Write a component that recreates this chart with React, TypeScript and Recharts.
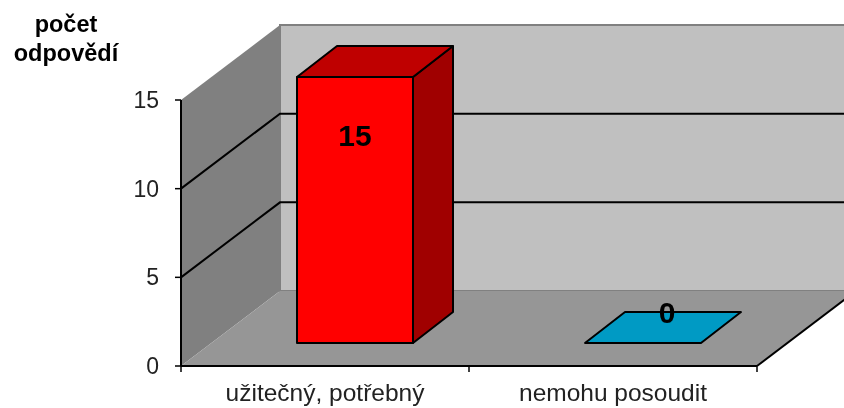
import { BarChart, Bar, XAxis, YAxis, ReferenceArea, LabelList } from "recharts";

const categories = ["užitečný, potřebný", "nemohu posoudit"];
const answers = [15, 0];
const yTicks = [0, 5, 10, 15];
const gridValues = [5, 10];
const titleLines = ["počet", "odpovědí"];

const frontFills = ["#ff0000", "#009ac4"];
const topFills = ["#bf0000", "#009ac4"];
const sideFills = ["#a00000", "#007a9c"];

const FONT = "'Liberation Sans', Arial, sans-serif";

// fake 3D: depth of the whole box and how far the bars sit in it
const DEPTH_X = 99;
const DEPTH_Y = 75;
const BAR_SHIFT_X = 30;
const BAR_SHIFT_Y = 23;
const BAR_DEPTH_X = 40;
const BAR_DEPTH_Y = 31;

const pts = (list: number[][]) => list.map((p) => p.join(",")).join(" ");

function Walls({ x, y, width, height }: any) {
  const r = x + width;
  const b = y + height;
  const bx = x + DEPTH_X;
  const ticks = categories.map((_, i) => x + (width * (i + 1)) / categories.length);
  return (
    <g>
      <polygon
        points={pts([[bx, y - DEPTH_Y], [r + DEPTH_X, y - DEPTH_Y], [r + DEPTH_X, b - DEPTH_Y], [bx, b - DEPTH_Y]])}
        fill="#c0c0c0"
        stroke="#808080"
        strokeWidth={2}
      />
      <polygon
        points={pts([[x, y], [bx, y - DEPTH_Y], [bx, b - DEPTH_Y], [x, b]])}
        fill="#808080"
      />
      <polygon
        points={pts([[x, b], [r, b], [r + DEPTH_X, b - DEPTH_Y], [bx, b - DEPTH_Y]])}
        fill="#969696"
      />
      <line x1={r} y1={b} x2={r + DEPTH_X} y2={b - DEPTH_Y} stroke="#000" strokeWidth={2} />
      {[x, ...ticks].map((t) => (
        <line key={t} x1={t} y1={b} x2={t} y2={b + 6} stroke="#000" strokeWidth={1.5} />
      ))}
    </g>
  );
}

// a zero height reference area, so the line stays behind the bars
function WallLine({ x, y, width }: any) {
  const d = `M${x},${y} L${x + DEPTH_X},${y - DEPTH_Y} L${x + width + DEPTH_X},${y - DEPTH_Y}`;
  return <path d={d} fill="none" stroke="#000" strokeWidth={2} />;
}

function Box3D({ x, y, width, height, index }: any) {
  const l = x + BAR_SHIFT_X;
  const r = l + width;
  const t = y - BAR_SHIFT_Y;
  const b = t + height;
  const dx = BAR_DEPTH_X;
  const dy = BAR_DEPTH_Y;
  return (
    <g stroke="#000" strokeWidth={2} strokeLinejoin="round">
      {height > 0 && <polygon points={pts([[r, t], [r + dx, t - dy], [r + dx, b - dy], [r, b]])} fill={sideFills[index]} />}
      <polygon points={pts([[l, t], [r, t], [r + dx, t - dy], [l + dx, t - dy]])} fill={topFills[index]} />
      {height > 0 && <rect x={l} y={t} width={width} height={height} fill={frontFills[index]} />}
    </g>
  );
}

function ValueLabel({ x, y, width, value }: any) {
  const cx = x + width / 2 + BAR_SHIFT_X;
  const raised = value > 0 ? { px: cx, py: y + 35 } : { px: cx + 24, py: y - 54 };
  return (
    <text x={raised.px} y={raised.py} textAnchor="middle" dominantBaseline="central" fontFamily={FONT} fontWeight="bold" fontSize={30} fill="#000">
      {value}
    </text>
  );
}

function Title() {
  return (
    <text textAnchor="middle" fontFamily={FONT} fontWeight="bold" fontSize={23.5} fill="#000">
      {titleLines.map((line, i) => (
        <tspan key={line} x={66} y={32 + i * 29}>
          {line}
        </tspan>
      ))}
    </text>
  );
}

export default function App() {
  const data = categories.map((name, i) => ({ name, value: answers[i] }));
  return (
    <div style={{ position: "absolute", left: 0, top: 0, width: 844, height: 408, filter: "blur(0.4px)" }}>
      <BarChart
        width={844}
        height={408}
        data={data}
        barSize={116}
        margin={{ top: 100, right: 87, bottom: 0, left: 0 }}
      >
        <XAxis
          dataKey="name"
          height={42}
          axisLine={{ stroke: "#000", strokeWidth: 2 }}
          tickLine={false}
          tickMargin={12}
          tick={{ fill: "#222", fontSize: 24.5, fontFamily: FONT }}
        />
        <YAxis
          width={181}
          domain={[0, 15]}
          ticks={yTicks}
          axisLine={{ stroke: "#000", strokeWidth: 2 }}
          tickSize={6}
          tickLine={{ stroke: "#000", strokeWidth: 1.5 }}
          tickMargin={16}
          tick={{ fill: "#222", fontSize: 23, fontFamily: FONT }}
        />
        <ReferenceArea shape={<Walls />} ifOverflow="visible" />
        {gridValues.map((v) => (
          <ReferenceArea key={v} y1={v} y2={v} shape={<WallLine />} ifOverflow="visible" />
        ))}
        <Bar dataKey="value" shape={<Box3D />} isAnimationActive={false}>
          <LabelList dataKey="value" content={<ValueLabel />} />
        </Bar>
        <Title />
      </BarChart>
    </div>
  );
}
